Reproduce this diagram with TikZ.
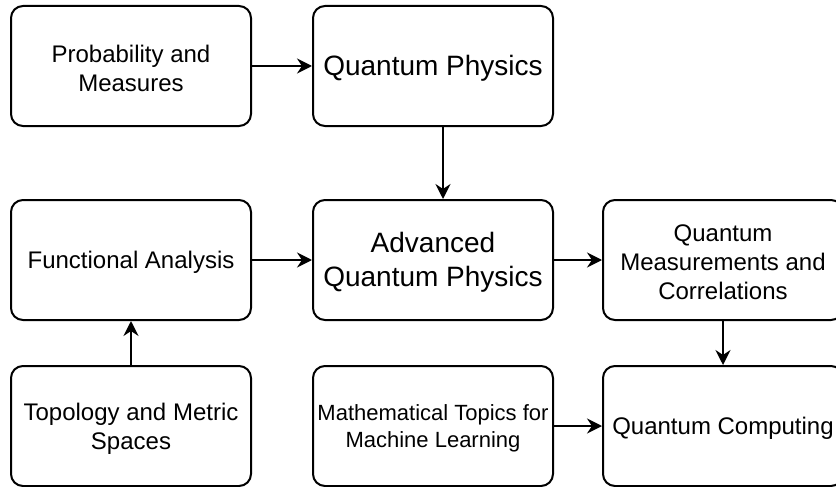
\documentclass[tikz,border=0pt]{standalone}
\usepackage{fontspec}
\setmainfont{Liberation Sans}
\usetikzlibrary{arrows.meta,calc}
\begin{document}
\begin{tikzpicture}[x=1pt,y=-1pt,
  box/.style={draw=black, line width=2pt, rounded corners=12pt, fill=white,
    minimum width=240pt, minimum height=120pt, inner sep=0pt},
  lbl/.style={align=center, inner sep=0pt, yshift=-2.5pt,
    font=\fontsize{24}{28.8}\selectfont},
  biglbl/.style={lbl, font=\fontsize{28}{33.6}\selectfont},
  smalllbl/.style={lbl, font=\fontsize{22}{26.4}\selectfont},
  conn/.style={line width=2pt, -{Stealth[length=15pt,width=15pt,inset=5pt]}}]
\useasboundingbox (0,0) rectangle (836,487);
\node[box, label={[lbl]center:{Probability and\\Measures}}] (prob) at (131,66) {};
\node[box, label={[biglbl]center:{Quantum Physics}}] (qp) at (433,66) {};
\node[box, label={[lbl]center:{Functional Analysis}}] (fa) at (131,260) {};
\node[box, label={[biglbl]center:{Advanced\\Quantum Physics}}] (aqp) at (433,260) {};
\node[box, label={[lbl]center:{Quantum\\Measurements and\\Correlations}}] (qmc) at (723,260) {};
\node[box, label={[lbl]center:{Topology and Metric\\Spaces}}] (topo) at (131,426) {};
\node[box, label={[smalllbl]center:{Mathematical Topics for\\Machine Learning}}] (mtml) at (433,426) {};
\node[box, label={[lbl]center:{Quantum Computing}}] (qc) at (723,426) {};
\draw[conn] (prob) -- (qp);
\draw[conn] ($(qp.south)+(10,0)$) -- ($(aqp.north)+(10,0)$);
\draw[conn] (fa) -- (aqp);
\draw[conn] (aqp) -- (qmc);
\draw[conn] (topo) -- (fa);
\draw[conn] (mtml) -- (qc);
\draw[conn] (qmc) -- (qc);
\end{tikzpicture}
\end{document}
